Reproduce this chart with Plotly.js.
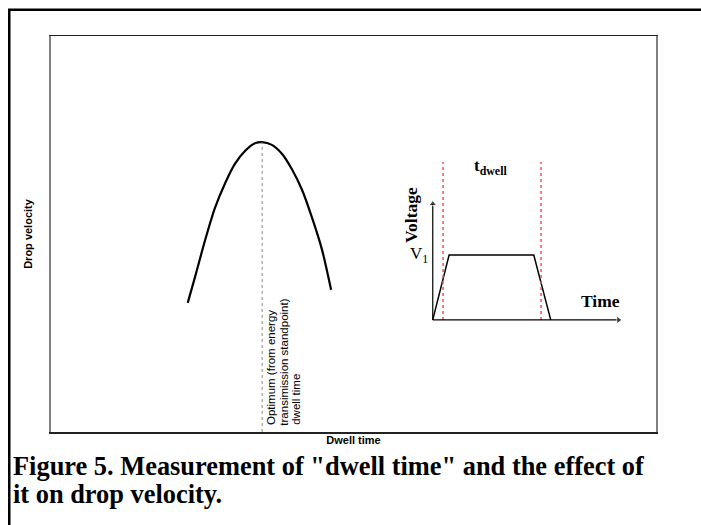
<!DOCTYPE html>
<html>
<head>
<meta charset="utf-8">
<script src="https://cdn.plot.ly/plotly-3.0.1.min.js"></script>
<style>html,body{margin:0;padding:0;background:#fff;}#chart{width:701px;height:525px;}</style>
</head>
<body>
<div id="chart"></div>
<script>
// Main curve: drop velocity vs dwell time (arbitrary units, 0-100 scale)
const curveX = [22.6, 23.8, 25.5, 27.1, 28.8, 30.4, 32.1, 33.7, 34.9, 36.5, 38.2, 39.8, 41.5, 43.1, 44.8, 46.3];
const curveY = [32.6, 39.1, 48.6, 56.6, 62.9, 67.7, 71.0, 72.9, 73.2, 72.5, 70.2, 66.4, 61.1, 54.3, 46.0, 35.9];

// Optimum marker line
const optimumX = [34.9, 34.9];
const optimumY = [0, 73.2];

// Inset: voltage pulse
const pulseX = [63.1, 65.8, 79.8, 82.6];
const pulseY = [28.3, 44.7, 44.7, 28.3];

// Inset: dwell window markers
const dwellStartX = [64.8, 64.8];
const dwellEndX = [81.0, 81.0];
const dwellY = [28.3, 68.2];

// Inset axes (origin -> arrow tip)
const voltAxisX = [63.1, 63.1];
const voltAxisY = [28.3, 57.6];
const timeAxisX = [63.1, 93.8];
const timeAxisY = [28.3, 28.3];

// Labels
const xTitle = 'Dwell time';
const yTitle = 'Drop velocity';
const optimumLines = ['Optimum (from energy', 'transimission standpoint)', 'dwell time'];
const optimumLineX = [36.4, 38.5, 40.5];
const captionLine1 = 'Figure 5. Measurement of "dwell time" and the effect of';
const captionLine2 = 'it on drop velocity.';

const traces = [
  {x: curveX, y: curveY, mode: 'lines', line: {color: '#000', width: 2.2, shape: 'spline', smoothing: 0.8}, hoverinfo: 'skip'},
  {x: optimumX, y: optimumY, mode: 'lines', line: {color: '#888', width: 1, dash: 'dot'}, hoverinfo: 'skip'},
  {x: pulseX, y: pulseY, mode: 'lines', line: {color: '#000', width: 1.5}, hoverinfo: 'skip'},
  {x: dwellStartX, y: dwellY, mode: 'lines', line: {color: '#ff4d4d', width: 1.5, dash: 'dot'}, hoverinfo: 'skip'},
  {x: dwellEndX, y: dwellY, mode: 'lines', line: {color: '#ff4d4d', width: 1.5, dash: 'dot'}, hoverinfo: 'skip'},
  {x: voltAxisX, y: voltAxisY, mode: 'lines+markers', line: {color: '#000', width: 1.2},
   marker: {symbol: 'triangle-up', size: [0, 7], color: '#000'}, hoverinfo: 'skip'},
  {x: timeAxisX, y: timeAxisY, mode: 'lines+markers', line: {color: '#000', width: 1.2},
   marker: {symbol: 'triangle-right', size: [0, 7], color: '#000'}, hoverinfo: 'skip'}
];

const serif = 'Times New Roman, Liberation Serif, serif';
const sans = 'Arial, Liberation Sans, sans-serif';

const annotations = [
  {x: 59.5, y: 54.8, xref: 'x', yref: 'y', text: '<b>Voltage</b>', textangle: -90, showarrow: false,
   font: {family: serif, size: 17.5, color: '#000'}},
  {x: 60.9, y: 44.7, xref: 'x', yref: 'y', text: 'V<sub>1</sub>', showarrow: false,
   font: {family: serif, size: 17, color: '#000'}},
  {x: 90.9, y: 33.1, xref: 'x', yref: 'y', text: '<b>Time</b>', showarrow: false,
   font: {family: serif, size: 17.5, color: '#000'}},
  {x: 72.7, y: 66.9, xref: 'x', yref: 'y', text: '<b>t<sub>dwell</sub></b>', showarrow: false,
   font: {family: serif, size: 17, color: '#000'}},
  {x: -0.066, y: -0.086, xref: 'paper', yref: 'paper', xanchor: 'left', yanchor: 'middle', align: 'left',
   text: '<b>' + captionLine1 + '</b>', showarrow: false, font: {family: serif, size: 26.4, color: '#000'}},
  {x: -0.066, y: -0.157, xref: 'paper', yref: 'paper', xanchor: 'left', yanchor: 'middle', align: 'left',
   text: '<b>' + captionLine2 + '</b>', showarrow: false, font: {family: serif, size: 26.4, color: '#000'}}
];
optimumLines.forEach((t, i) => {
  annotations.push({x: optimumLineX[i], y: 1.2, xref: 'x', yref: 'y', text: t, textangle: -90,
    xanchor: 'center', yanchor: 'bottom', showarrow: false, font: {family: sans, size: 11.5, color: '#000'}});
});

const layout = {
  width: 701, height: 525,
  margin: {l: 51, r: 45, t: 36, b: 93},
  paper_bgcolor: '#fff', plot_bgcolor: '#fff',
  showlegend: false,
  xaxis: {range: [0, 100], showgrid: false, zeroline: false, showticklabels: false, ticks: '',
          showline: true, mirror: true, linecolor: '#222', linewidth: 1.5,
          title: {text: '<b>' + xTitle + '</b>', font: {family: sans, size: 11, color: '#000'}, standoff: 4}},
  yaxis: {range: [0, 100], showgrid: false, zeroline: false, showticklabels: false, ticks: '',
          showline: true, mirror: true, linecolor: '#808080', linewidth: 2,
          title: {text: '<b>' + yTitle + '</b>', font: {family: sans, size: 11, color: '#000'}, standoff: 14}},
  shapes: [
    {type: 'path', xref: 'paper', yref: 'paper', path: 'M -0.069 -0.3 L -0.069 1.066 L 1.2 1.066',
     line: {color: '#000', width: 2.5}}
  ],
  annotations: annotations
};

Plotly.newPlot('chart', traces, layout, {staticPlot: true, displayModeBar: false});
</script>
</body>
</html>
